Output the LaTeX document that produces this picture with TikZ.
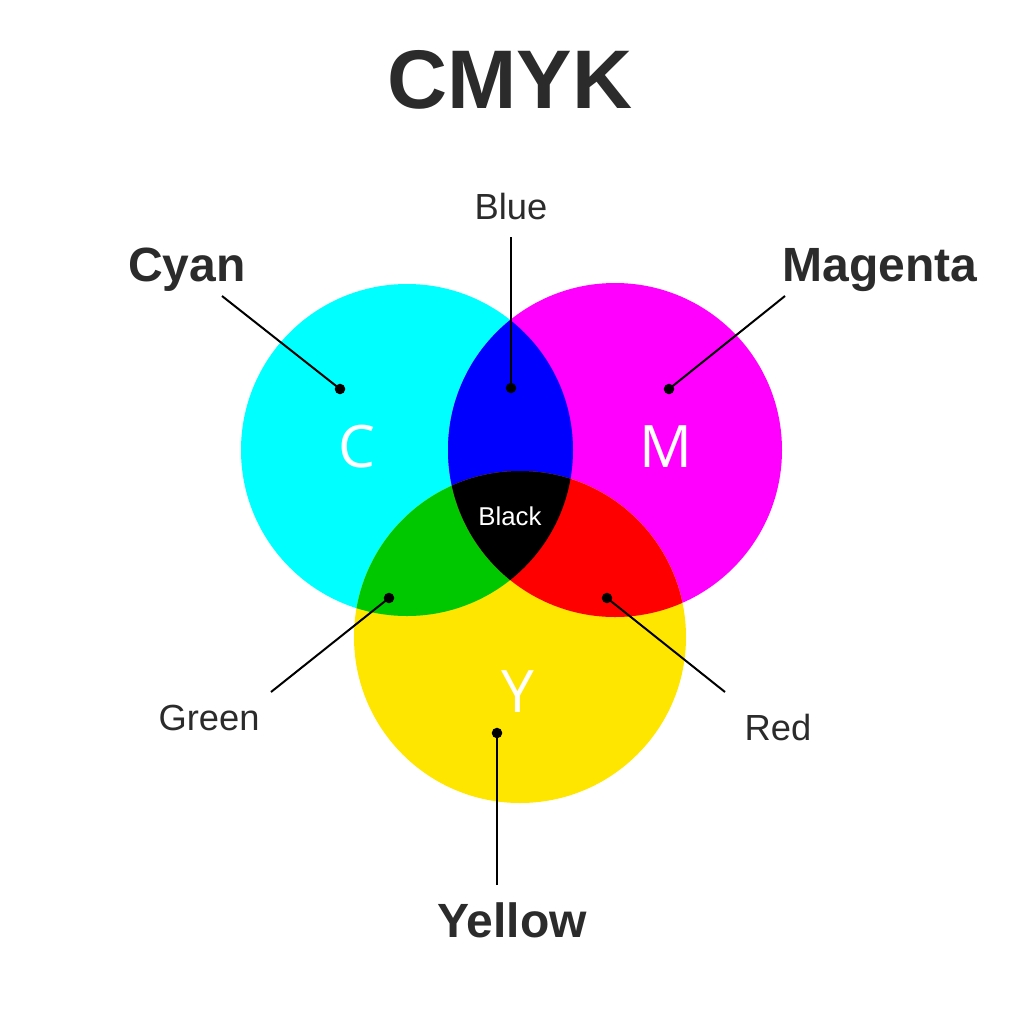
\documentclass[tikz,border=0pt]{standalone}
\usepackage{fontspec}
\setmainfont{Liberation Sans}
\newfontfamily\osans{Open Sans}
\definecolor{cc}{HTML}{00FFFF}
\definecolor{mm}{HTML}{FF00FF}
\definecolor{yy}{HTML}{FFE600}
\definecolor{bb}{HTML}{0000FF}
\definecolor{gg}{HTML}{00C800}
\definecolor{rr}{HTML}{FF0000}
\definecolor{tx}{HTML}{2B2B2B}
\begin{document}
\begin{tikzpicture}[x=0.03cm,y=-0.03cm,
  lead/.style={line width=1.7pt,draw=black},
  dotm/.style={circle,fill=black,inner sep=0pt,minimum size=9pt},
  big/.style={font=\fontsize{41}{41}\selectfont\bfseries,text=tx},
  small/.style={font=\fontsize{31}{31}\selectfont,text=tx},
  letter/.style={font=\osans\fontsize{50}{50}\selectfont,text=white}]
\useasboundingbox (0,0) rectangle (1024,1024);
\fill[white] (0,0) rectangle (1024,1024);
\def\cyanc{(407,450) circle (166)}
\def\magc{(615,450) circle (167)}
\def\yelc{(520,637) circle (166)}
\fill[cc] \cyanc; \fill[mm] \magc; \fill[yy] \yelc;
\begin{scope}\clip \cyanc; \fill[bb] \magc; \end{scope}
\begin{scope}\clip \cyanc; \fill[gg] \yelc; \end{scope}
\begin{scope}\clip \magc; \fill[rr] \yelc; \end{scope}
\begin{scope}\clip \cyanc; \clip \magc; \fill[black] \yelc; \end{scope}
\node[font=\fontsize{71}{71}\selectfont\bfseries,text=tx] (t) at (510,80) {CMYK};
\node[big] (cyan) at (187,270) {Cyan};
\node[big] (mag) at (880,270) {Magenta};
\node[big] (yel) at (512,920) {Yellow};
\node[small] (blue) at (511,207) {Blue};
\node[small] (green) at (209,718) {Green};
\node[small] (red) at (778,728) {Red};
\node[letter] (c) at (357,447) {C};
\node[letter] (m) at (666,447) {M};
\node[letter] (y) at (518,692) {Y};
\node[font=\fontsize{22}{22}\selectfont,text=white] (k) at (510,516) {Black};
\node[dotm] (dc) at (340,389) {};
\node[dotm] (dm) at (669,389) {};
\node[dotm] (db) at (511,388) {};
\node[dotm] (dg) at (389,598) {};
\node[dotm] (dr) at (607,598) {};
\node[dotm] (dy) at (497,733) {};
\coordinate (ec) at (222,296); \coordinate (em) at (785,296);
\coordinate (eb) at (511,237); \coordinate (eg) at (271,692);
\coordinate (er) at (725,692); \coordinate (ey) at (497,885);
\draw[lead] (ec) -- (dc.center);
\draw[lead] (em) -- (dm.center);
\draw[lead] (eb) -- (db.center);
\draw[lead] (eg) -- (dg.center);
\draw[lead] (er) -- (dr.center);
\draw[lead] (ey) -- (dy.center);
\end{tikzpicture}
\end{document}
